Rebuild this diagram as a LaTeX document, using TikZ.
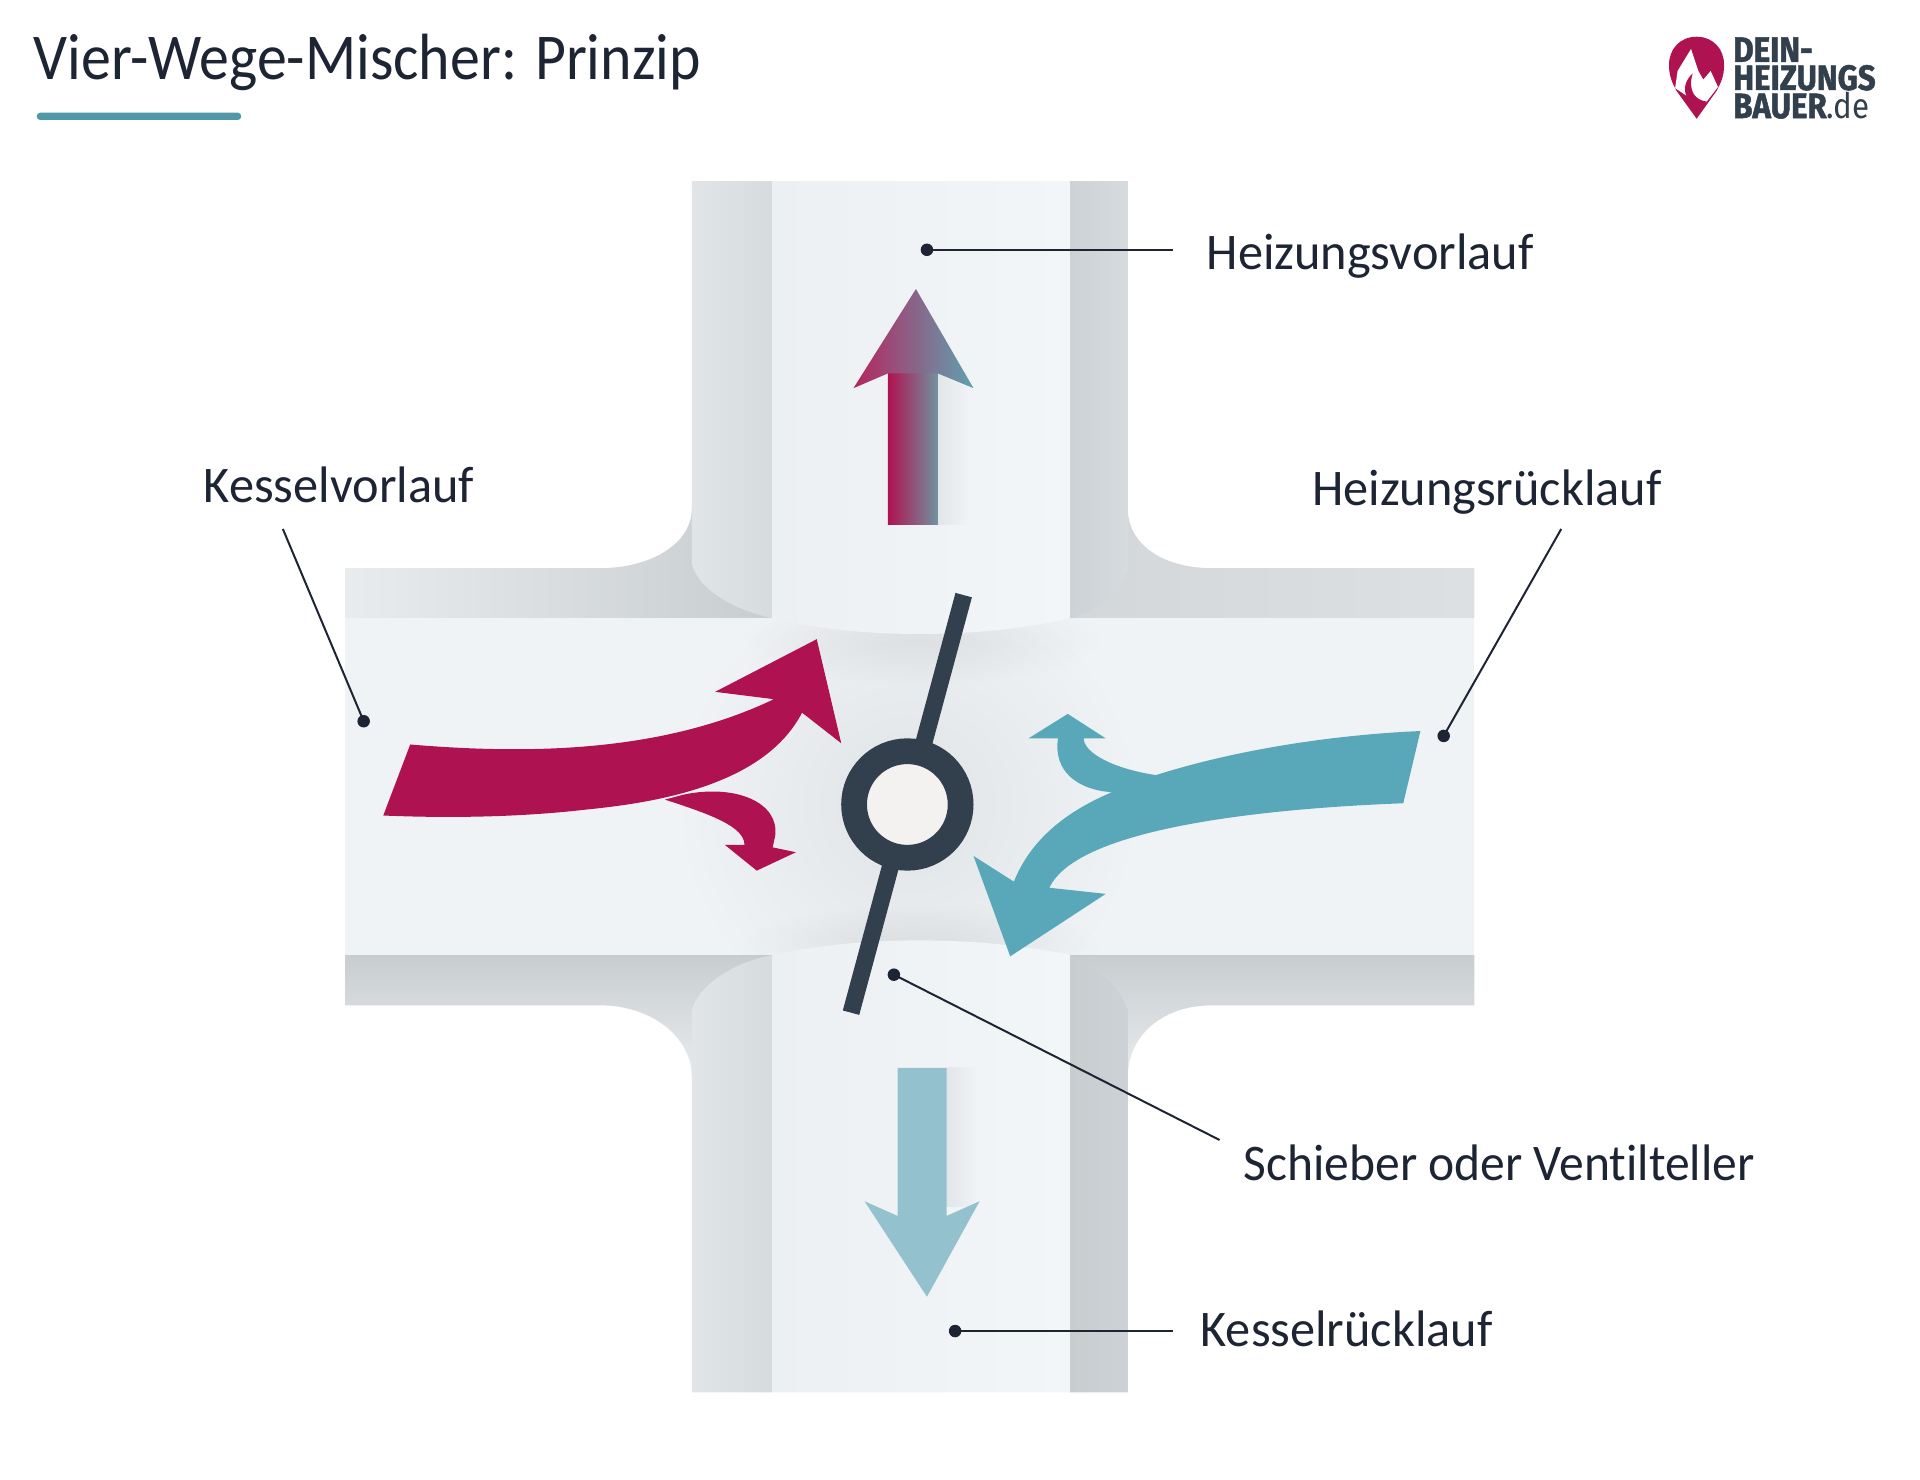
\documentclass[tikz,border=0pt]{standalone}
\usepackage{fontspec}
\setmainfont[Ligatures=NoCommon]{Carlito}
\newfontfamily\logofont[FakeBold=1.5]{Fira Sans}
\newfontfamily\logothin{Fira Sans}
\usetikzlibrary{fadings}
\usetikzlibrary{calc}
\definecolor{ink}{HTML}{1D2433}
\definecolor{slate}{HTML}{323F4C}
\definecolor{crimson}{HTML}{AF1250}
\definecolor{teal}{HTML}{59A8BA}
\definecolor{paleteal}{HTML}{93C1CD}
\definecolor{bodygrey}{HTML}{F0F3F5}
\definecolor{stripleft}{HTML}{EDF0F2}
\definecolor{stripright}{HTML}{F3F6F8}
\definecolor{pipelight}{HTML}{ECEFF1}
\definecolor{pipemid}{HTML}{E1E5E8}
\definecolor{pipeedge}{HTML}{D6DBDE}
\definecolor{pipedark}{HTML}{CDD2D6}
\definecolor{bandlight}{HTML}{E9ECEE}
\definecolor{banddark}{HTML}{C8CDD0}
\definecolor{shadowgrey}{HTML}{E3E6E8}
\definecolor{ringfill}{HTML}{F3F2F0}
\tikzfading[name=fadecentre, inner color=transparent!94, outer color=transparent!100]
\begin{document}
\begin{tikzpicture}[x=0.012245cm, y=-0.012245cm,
				label/.style={anchor=base west, inner sep=0pt, text=ink, xscale=0.98, font=\fontsize{14.6}{16}\selectfont},
				dot/.style={circle, fill=ink, inner sep=0pt, minimum size=0.125cm},
				leader/.style={draw=ink, line width=0.02cm}]
				\useasboundingbox (0, 0) rectangle (1568, 1208);
				\fill[white] (0, 0) rectangle (1568, 1208);

				% horizontal pipe
				\shade[left color=bandlight, middle color=bandlight, right color=banddark] (282, 464) -- (490, 464) .. controls (530, 464) and (565, 445) .. (565, 415) -- (631, 505) -- (282, 505) -- cycle;
				\shade[left color=banddark!80!white, middle color=bandlight!90!black, right color=bandlight!95!black] (1204, 464) -- (990, 464) .. controls (950, 464) and (921, 445) .. (921, 415) -- (874, 505) -- (1204, 505) -- cycle;
				\shade[top color=banddark, bottom color=bandlight] (282, 780) -- (631, 780) -- (565, 880) .. controls (565, 845) and (530, 821) .. (490, 821) -- (282, 821) -- cycle;
				\shade[top color=banddark, bottom color=bandlight] (1204, 780) -- (874, 780) -- (921, 880) .. controls (921, 845) and (950, 821) .. (990, 821) -- (1204, 821) -- cycle;
				\fill[bodygrey] (282, 505) rectangle (1204, 780);
				\fill[black, path fading=fadecentre] (741, 657) circle (190);
				\fill[black, path fading=fadecentre] (752, 522) ellipse (150 and 38);
				\fill[black, path fading=fadecentre] (752, 772) ellipse (150 and 34);

				% vertical pipe, upper part
				\shade[left color=pipemid, middle color=pipelight, right color=pipeedge] (565, 148) -- (631, 148) -- (631, 505) .. controls (600, 498) and (570, 482) .. (565, 460) -- cycle;
				\shade[left color=stripleft, right color=stripright] (631, 148) -- (874, 148) -- (874, 505) .. controls (800, 522) and (700, 522) .. (631, 505) -- cycle;
				\shade[left color=pipedark, right color=pipeedge] (874, 148) -- (921, 148) -- (921, 465) .. controls (915, 485) and (895, 498) .. (874, 505) -- cycle;

				% vertical pipe, lower part
				\shade[left color=pipemid, middle color=pipelight, right color=pipeedge] (565, 1137) -- (631, 1137) -- (631, 780) .. controls (600, 785) and (570, 805) .. (565, 825) -- cycle;
				\shade[left color=stripleft, right color=stripright] (631, 1137) -- (874, 1137) -- (874, 780) .. controls (800, 764) and (700, 764) .. (631, 780) -- cycle;
				\shade[left color=banddark, right color=pipedark] (874, 1137) -- (921, 1137) -- (921, 825) .. controls (915, 805) and (895, 790) .. (874, 780) -- cycle;

				% arrow shadows
				\shade[left color=shadowgrey, right color=bodygrey] (766, 305) rectangle (790, 428);
				\shade[left color=shadowgrey, right color=bodygrey] (773, 872) rectangle (797, 985);

				% up and down arrows
				\shade[left color=crimson, middle color=crimson!45!paleteal, right color=paleteal!65!slate] (725, 305) rectangle (766, 428);
				\shade[left color=crimson!92!white, middle color=crimson!48!paleteal, right color=teal!85!gray] (748, 236) -- (795, 317) -- (766, 305) -- (725, 305) -- (697, 317) -- cycle;
				\fill[paleteal] (733, 872) -- (773, 872) -- (773, 993) -- (800, 981) -- (757, 1059) -- (706, 981) -- (733, 993) -- cycle;

				% red flow
				\fill[crimson] (335, 608) .. controls (430, 616) and (540, 615) .. (632, 571) -- (584, 565) -- (667, 522) -- (687, 607) -- (655, 582) .. controls (625, 640) and (540, 655) .. (480, 661) .. controls (420, 668) and (360, 668) .. (313, 666) -- cycle;
				\fill[crimson] (543, 653) -- (558, 649) .. controls (600, 640) and (637, 655) .. (633, 683) -- (631, 692) -- (650, 696) -- (618, 711) -- (592, 690) -- (608, 690) .. controls (608, 675) and (580, 665) .. (543, 653) -- cycle;

				% teal flow
				\fill[teal] (1160, 597) -- (1146, 656) .. controls (1040, 660) and (880, 675) .. (857, 725) -- (903, 730) -- (825, 781) -- (795, 699) -- (828, 720) .. controls (840, 690) and (865, 665) .. (908, 647) .. controls (880, 645) and (860, 630) .. (864, 603) -- (840, 603) -- (872, 583) -- (903, 603) -- (885, 603) .. controls (885, 615) and (910, 628) .. (944, 633) .. controls (1010, 612) and (1090, 600) .. (1160, 597) -- cycle;

				% slide and ring
				\coordinate (blade1) at (787, 486);
				\coordinate (blade2) at (695, 827);
				\draw[slate, line width=0.17cm] (blade1) -- (blade2);
				\node[circle, draw=slate, fill=ringfill, line width=0.257cm, minimum size=1.065cm, inner sep=0pt](mixer) at (741, 657) {};

				% leaders
				\node[dot](dot1) at (757, 204) {};
				\node[dot](dot2) at (297, 589) {};
				\node[dot](dot3) at (1179, 601) {};
				\node[dot](dot4) at (730, 796) {};
				\node[dot](dot5) at (780, 1087) {};
				\coordinate (end1) at (958, 204);
				\coordinate (end2) at (231, 432);
				\coordinate (end3) at (1275, 432);
				\coordinate (end4) at (996, 931);
				\coordinate (end5) at (958, 1087);
				\draw[leader] (dot1.center) -- (end1);
				\draw[leader] (dot2.center) -- (end2);
				\draw[leader] (dot3.center) -- (end3);
				\draw[leader] (dot4.center) -- (end4);
				\draw[leader] (dot5.center) -- (end5);

				% labels
				\node[label](label1) at (985, 220) {Heizungsvorlauf};
				\node[label](label2) at (166, 410) {Kesselvorlauf};
				\node[label](label3) at (1071, 413) {Heizungsrücklauf};
				\node[label, xscale=0.985](label4) at (1015, 964) {Schieber oder Ventilteller};
				\node[label](label5) at (980, 1100) {Kesselrücklauf};

				% title
				\node[anchor=base west, inner sep=0pt, text=ink, xscale=0.915, font=\fontsize{18.6}{22}\selectfont](title) at (27, 65) {Vier-Wege-Mischer: Prinzip};
				\fill[teal!90!black, rounded corners=1pt] (30, 92) rectangle (197, 98);

				% logo
				\fill[crimson] (1385.6, 30) .. controls (1372, 30) and (1363, 40) .. (1363, 53) .. controls (1363, 63) and (1366, 68) .. (1369, 74) -- (1385.6, 97) -- (1402, 74) .. controls (1405, 68) and (1408, 63) .. (1408, 53) .. controls (1408, 40) and (1399, 30) .. (1385.6, 30) -- cycle;
				\fill[white] (1381, 40) -- (1387, 58) -- (1391, 65) -- (1397, 58) -- (1403, 71) -- (1393, 84) -- (1380, 80) -- (1368, 72) -- (1370, 58) -- cycle;
				\fill[crimson] (1382.3, 60) .. controls (1372, 70) and (1375, 80) .. (1386, 90) -- (1394, 83) .. controls (1385, 82) and (1378, 75) .. (1382.3, 60) -- cycle;
				\node[anchor=north west, inner sep=0pt, text=slate, xscale=0.89, align=left, font=\fontsize{10}{8}\logofont\bfseries](logotext) at (1415, 30) {DEIN-\\HEIZUNGS\\BAUER{\logothin\mdseries.de}};
			\end{tikzpicture}
\end{document}
